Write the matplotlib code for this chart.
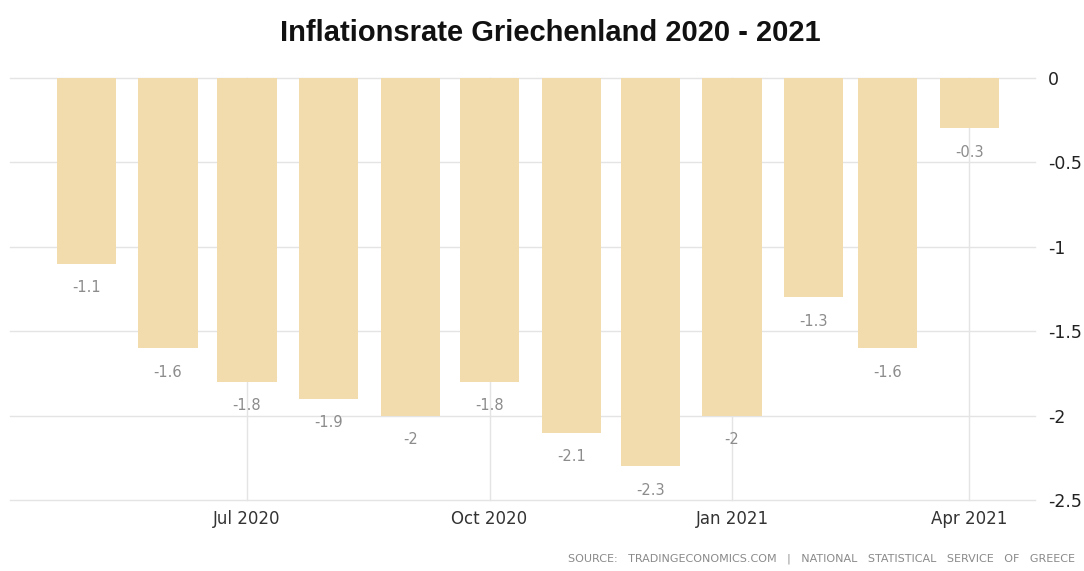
import matplotlib.pyplot as plt
import matplotlib.dates as mdates
import pandas as pd

# monthly inflation rate, Greece (%)
months = ['2020-05', '2020-06', '2020-07', '2020-08', '2020-09', '2020-10',
          '2020-11', '2020-12', '2021-01', '2021-02', '2021-03', '2021-04']
rates = [-1.1, -1.6, -1.8, -1.9, -2.0, -1.8, -2.1, -2.3, -2.0, -1.3, -1.6, -0.3]
tick_months = ['2020-07', '2020-10', '2021-01', '2021-04']
tick_labels = ['Jul 2020', 'Oct 2020', 'Jan 2021', 'Apr 2021']
y_ticks = [0, -0.5, -1, -1.5, -2, -2.5]

dates = pd.to_datetime(months)

fig = plt.figure(figsize=(10.84, 5.71), dpi=100)
ax = fig.add_axes([0.009, 0.124, 0.946, 0.740])

ax.bar(dates, rates, width=22.5, color='#f2dbad', zorder=2)

# value labels under each bar
for d, v in zip(dates, rates):
    ax.annotate('{:g}'.format(v), (mdates.date2num(d), v), xytext=(0, -24),
                textcoords='offset pixels', ha='center', va='center',
                fontsize=10.5, color='#8c8c8c')

ax.set_xlim(pd.Timestamp('2020-04-02'), pd.Timestamp('2021-04-26'))
ax.set_ylim(-2.5, 0)

ax.set_xticks(pd.to_datetime(tick_months))
ax.set_xticklabels(tick_labels, fontsize=12, color='#333333')
ax.set_yticks(y_ticks)
ax.set_yticklabels(['{:g}'.format(t) for t in y_ticks], fontsize=12.5, color='#222222')
ax.yaxis.tick_right()
ax.tick_params(axis='both', length=0)
ax.tick_params(axis='y', pad=9)
ax.tick_params(axis='x', pad=7)

ax.grid(True, color='#e4e4e4', linewidth=1, zorder=0)
ax.set_axisbelow(True)
for line in ax.get_xgridlines() + ax.get_ygridlines():
    line.set_clip_on(False)
for s in ax.spines.values():
    s.set_visible(False)

fig.text(0.508, 0.942, 'Inflationsrate Griechenland 2020 - 2021',
         ha='center', va='center', fontsize=21, fontweight='bold',
         family='Liberation Sans', color='#111111')
fig.text(0.992, 0.012,
         'SOURCE:   TRADINGECONOMICS.COM   |   NATIONAL   STATISTICAL   SERVICE   OF   GREECE',
         ha='right', va='bottom', fontsize=8, color='#8a8a8a')

fig.savefig('out.png', dpi=100)
